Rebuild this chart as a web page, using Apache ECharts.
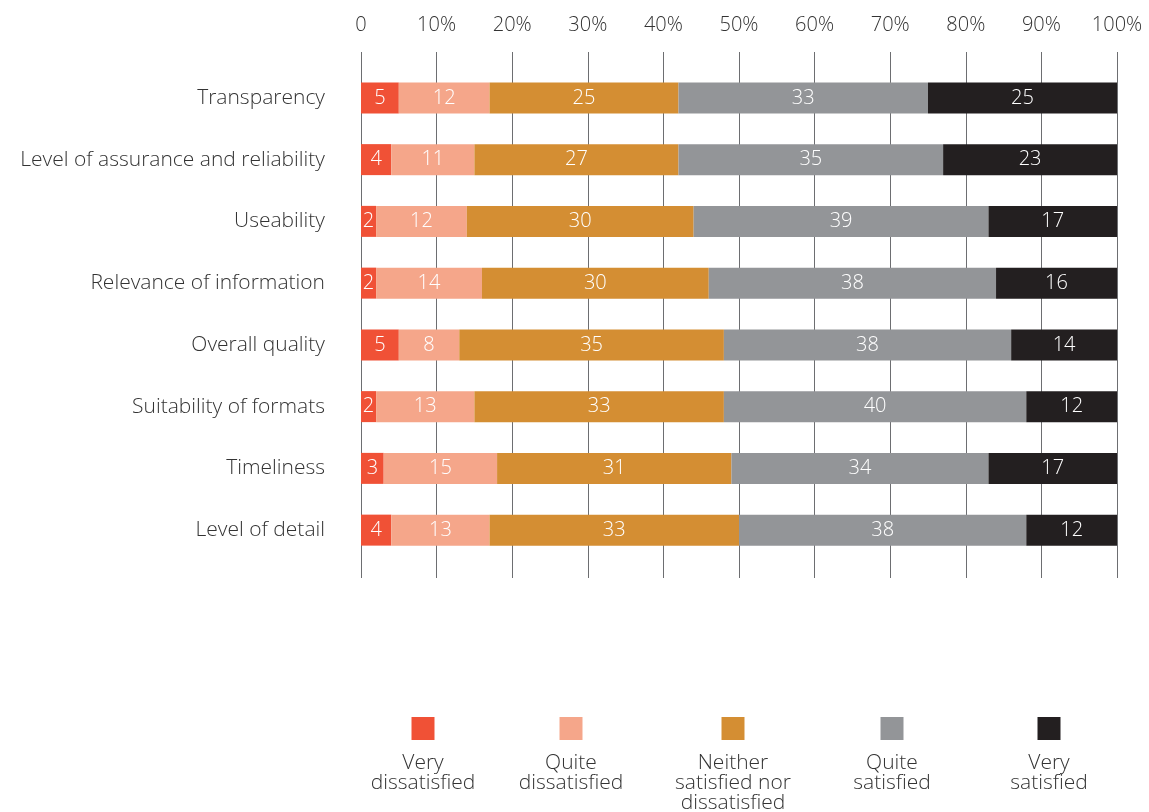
<!DOCTYPE html>
<html>
<head>
<meta charset="utf-8">
<title>Satisfaction ratings</title>
<script src="https://cdn.jsdelivr.net/npm/echarts@6/dist/echarts.min.js"></script>
<style>
  html, body { margin: 0; padding: 0; background: #fff; }
  #chart { width: 1149px; height: 812px; }
</style>
</head>
<body>
<div id="chart"></div>
<script>
// Aspects rated, top to bottom
const categories = [
  'Transparency',
  'Level of assurance and reliability',
  'Useability',
  'Relevance of information',
  'Overall quality',
  'Suitability of formats',
  'Timeliness',
  'Level of detail'
];

// Share of respondents (%) per rating
const veryDissatisfied  = [5, 4, 2, 2, 5, 2, 3, 4];
const quiteDissatisfied = [12, 11, 12, 14, 8, 13, 15, 13];
const neither           = [25, 27, 30, 30, 35, 33, 31, 33];
const quiteSatisfied    = [33, 35, 39, 38, 38, 40, 34, 38];
const verySatisfied     = [25, 23, 17, 16, 14, 12, 17, 12];

const seriesNames = ['Very dissatisfied', 'Quite dissatisfied', 'Neither satisfied nor dissatisfied', 'Quite satisfied', 'Very satisfied'];
const legendLabels = ['Very\ndissatisfied', 'Quite\ndissatisfied', 'Neither\nsatisfied nor\ndissatisfied', 'Quite\nsatisfied', 'Very\nsatisfied'];
const colors = ['#F05136', '#F5A68A', '#D48E33', '#939598', '#231F20'];
const seriesData = [veryDissatisfied, quiteDissatisfied, neither, quiteSatisfied, verySatisfied];

const FONT = '"Open Sans", Lato, sans-serif';
const TEXT = '#333333';

const chart = echarts.init(document.getElementById('chart'), null, { renderer: 'canvas' });

// Legend: swatch above a centred multi-line caption
const legendX = [423, 571, 733, 892, 1049];
const legendGraphics = [];
legendLabels.forEach((lab, i) => {
  legendGraphics.push({
    type: 'rect',
    shape: { x: legendX[i] - 11.5, y: 717, width: 23, height: 23 },
    style: { fill: colors[i] }
  });
  legendGraphics.push({
    type: 'text',
    x: legendX[i],
    y: 753,
    style: {
      text: lab,
      fill: TEXT,
      font: '300 21px ' + FONT,
      align: 'center',
      verticalAlign: 'top',
      lineHeight: 20
    }
  });
});

chart.setOption({
  animation: false,
  backgroundColor: '#fff',
  grid: [
    { left: 361, right: 32, top: 67, height: 494, containLabel: false },
    { left: 361, right: 32, top: 52, height: 526, containLabel: false }
  ],
  xAxis: [
    { gridIndex: 0, type: 'value', min: 0, max: 100, show: false },
    {
      gridIndex: 1, type: 'value', min: 0, max: 100, interval: 10, position: 'top',
      axisLine: { show: false },
      axisTick: { show: false },
      axisLabel: {
        margin: 17,
        color: TEXT,
        fontFamily: FONT,
        fontWeight: 300,
        fontSize: 20,
        formatter: v => (v === 0 ? '0' : v + '%')
      },
      splitLine: { show: true, lineStyle: { color: '#6d6e71', width: 1 } }
    }
  ],
  yAxis: [
    {
      gridIndex: 0, type: 'category', data: categories, inverse: true,
      axisLine: { show: false },
      axisTick: { show: false },
      axisLabel: {
        margin: 36,
        color: TEXT,
        fontFamily: FONT,
        fontWeight: 300,
        fontSize: 21,
        padding: [4, 0, 0, 0]
      }
    },
    { gridIndex: 1, type: 'value', show: false }
  ],
  series: seriesNames.map((name, i) => ({
    name,
    type: 'bar',
    stack: 'total',
    xAxisIndex: 0,
    yAxisIndex: 0,
    barWidth: 31,
    itemStyle: { color: colors[i] },
    label: {
      show: true,
      position: 'inside',
      color: '#fff',
      fontFamily: FONT,
      fontWeight: 300,
      fontSize: 20
    },
    data: seriesData[i]
  })),
  graphic: legendGraphics
});
</script>
</body>
</html>
